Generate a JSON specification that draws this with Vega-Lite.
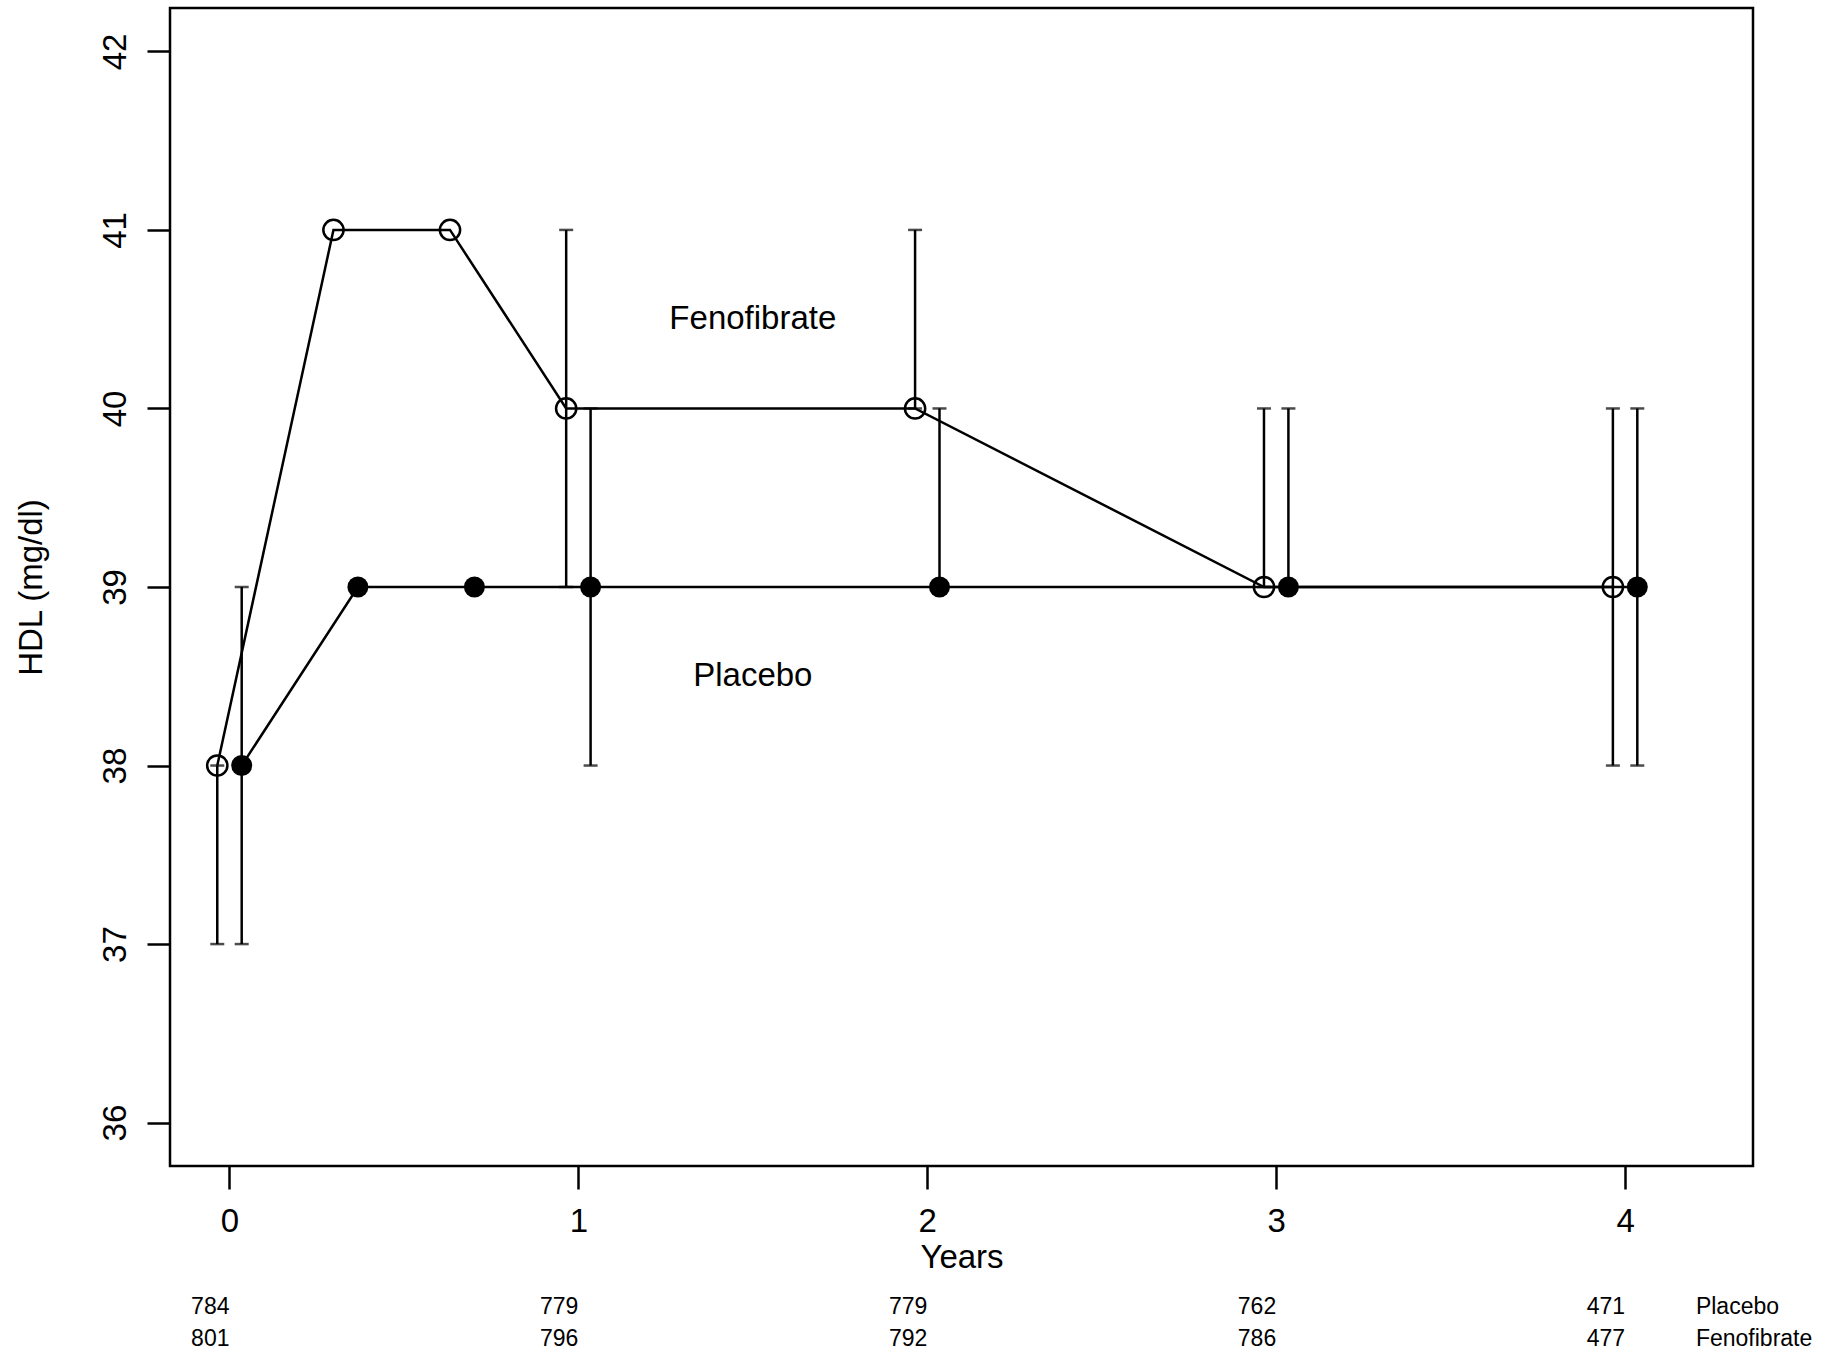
{
  "$schema": "https://vega.github.io/schema/vega-lite/v6.json",
  "background": "white",
  "padding": {"left": 13, "top": 6, "right": 5, "bottom": 0},
  "config": {
    "font": "Liberation Sans",
    "view": {"stroke": null},
    "axis": {"grid": false, "domain": false, "labelColor": "black", "titleColor": "black", "tickColor": "black", "labelFont": "Liberation Sans", "titleFont": "Liberation Sans", "titleFontWeight": "normal"}
  },
  "spacing": 125,
  "bounds": "flush",
  "datasets": {
    "means": [
      {"group": "Fenofibrate", "year": -0.035, "hdl": 38},
      {"group": "Fenofibrate", "year": 0.298, "hdl": 41},
      {"group": "Fenofibrate", "year": 0.632, "hdl": 41},
      {"group": "Fenofibrate", "year": 0.965, "hdl": 40},
      {"group": "Fenofibrate", "year": 1.965, "hdl": 40},
      {"group": "Fenofibrate", "year": 2.965, "hdl": 39},
      {"group": "Fenofibrate", "year": 3.965, "hdl": 39},
      {"group": "Placebo", "year": 0.035, "hdl": 38},
      {"group": "Placebo", "year": 0.368, "hdl": 39},
      {"group": "Placebo", "year": 0.702, "hdl": 39},
      {"group": "Placebo", "year": 1.035, "hdl": 39},
      {"group": "Placebo", "year": 2.035, "hdl": 39},
      {"group": "Placebo", "year": 3.035, "hdl": 39},
      {"group": "Placebo", "year": 4.035, "hdl": 39}
    ],
    "bars": [
      {"group": "Fenofibrate", "year": -0.035, "low": 37, "high": 38},
      {"group": "Fenofibrate", "year": 0.965, "low": 39, "high": 41},
      {"group": "Fenofibrate", "year": 1.965, "low": 40, "high": 41},
      {"group": "Fenofibrate", "year": 2.965, "low": 39, "high": 40},
      {"group": "Fenofibrate", "year": 3.965, "low": 38, "high": 40},
      {"group": "Placebo", "year": 0.035, "low": 37, "high": 39},
      {"group": "Placebo", "year": 1.035, "low": 38, "high": 40},
      {"group": "Placebo", "year": 2.035, "low": 39, "high": 40},
      {"group": "Placebo", "year": 3.035, "low": 39, "high": 40},
      {"group": "Placebo", "year": 4.035, "low": 38, "high": 40}
    ],
    "labels": [
      {"label": "Fenofibrate", "year": 1.5, "hdl": 40.5},
      {"label": "Placebo", "year": 1.5, "hdl": 38.5}
    ],
    "counts": [
      {"group": "Placebo", "year": 0, "n": 784},
      {"group": "Placebo", "year": 1, "n": 779},
      {"group": "Placebo", "year": 2, "n": 779},
      {"group": "Placebo", "year": 3, "n": 762},
      {"group": "Placebo", "year": 4, "n": 471},
      {"group": "Fenofibrate", "year": 0, "n": 801},
      {"group": "Fenofibrate", "year": 1, "n": 796},
      {"group": "Fenofibrate", "year": 2, "n": 792},
      {"group": "Fenofibrate", "year": 3, "n": 786},
      {"group": "Fenofibrate", "year": 4, "n": 477}
    ],
    "rowlabels": [
      {"group": "Placebo", "year": 4.203},
      {"group": "Fenofibrate", "year": 4.203}
    ]
  },
  "vconcat": [
    {
      "width": 1583,
      "height": 1158,
      "view": {"stroke": "black", "strokeWidth": 2.5},
      "encoding": {
        "x": {
          "field": "year", "type": "quantitative",
          "scale": {"domain": [-0.1705, 4.3666], "nice": false, "zero": false},
          "axis": {"values": [0, 1, 2, 3, 4], "title": "Years", "format": "d", "tickSize": 23, "tickWidth": 2.5, "labelFontSize": 33, "titleFontSize": 33, "labelPadding": 16, "titlePadding": 3, "labelFlush": false, "labelOverlap": false}
        }
      },
      "layer": [
        {
          "data": {"name": "bars"},
          "mark": {"type": "rule", "color": "black", "strokeWidth": 2.5},
          "encoding": {
            "y": {"field": "low", "type": "quantitative", "scale": {"domain": [35.757, 42.243], "nice": false, "zero": false},
              "axis": {"values": [36, 37, 38, 39, 40, 41, 42], "format": "d", "title": "HDL (mg/dl)", "tickSize": 23, "tickWidth": 2.5, "labelFontSize": 33, "titleFontSize": 33, "labelAngle": -90, "labelAlign": "center", "labelBaseline": "bottom", "labelPadding": 15, "titlePadding": 51, "labelOverlap": false}},
            "y2": {"field": "high"}
          }
        },
        {
          "data": {"name": "bars"},
          "transform": [{"fold": ["low", "high"], "as": ["end", "val"]}],
          "mark": {"type": "tick", "orient": "horizontal", "color": "black", "size": 14, "thickness": 2.5},
          "encoding": {
            "y": {"field": "val", "type": "quantitative"}
          }
        },
        {
          "data": {"name": "means"},
          "mark": {"type": "line", "color": "black", "strokeWidth": 2.5},
          "encoding": {
            "y": {"field": "hdl", "type": "quantitative"},
            "detail": {"field": "group"}
          }
        },
        {
          "data": {"name": "means"},
          "transform": [{"filter": "datum.group === 'Fenofibrate'"}],
          "mark": {"type": "point", "shape": "circle", "filled": false, "color": "black", "opacity": 1, "strokeWidth": 2.5, "size": 410},
          "encoding": {
            "y": {"field": "hdl", "type": "quantitative"}
          }
        },
        {
          "data": {"name": "means"},
          "transform": [{"filter": "datum.group === 'Placebo'"}],
          "mark": {"type": "point", "shape": "circle", "filled": true, "color": "black", "opacity": 1, "strokeWidth": 0, "size": 440},
          "encoding": {
            "y": {"field": "hdl", "type": "quantitative"}
          }
        },
        {
          "data": {"name": "labels"},
          "mark": {"type": "text", "color": "black", "fontSize": 33, "align": "center", "baseline": "middle"},
          "encoding": {
            "y": {"field": "hdl", "type": "quantitative"},
            "text": {"field": "label"}
          }
        }
      ]
    },
    {
      "width": 1583,
      "height": 64,
      "encoding": {
        "x": {"field": "year", "type": "quantitative", "scale": {"domain": [-0.1705, 4.3666], "nice": false, "zero": false}, "axis": null},
        "y": {"field": "group", "type": "nominal", "sort": ["Placebo", "Fenofibrate"], "axis": null}
      },
      "layer": [
        {
          "data": {"name": "counts"},
          "mark": {"type": "text", "color": "black", "fontSize": 23, "align": "right", "baseline": "middle"},
          "encoding": {"text": {"field": "n"}}
        },
        {
          "data": {"name": "rowlabels"},
          "mark": {"type": "text", "color": "black", "fontSize": 23, "align": "left", "baseline": "middle"},
          "encoding": {"text": {"field": "group"}}
        }
      ]
    }
  ]
}
